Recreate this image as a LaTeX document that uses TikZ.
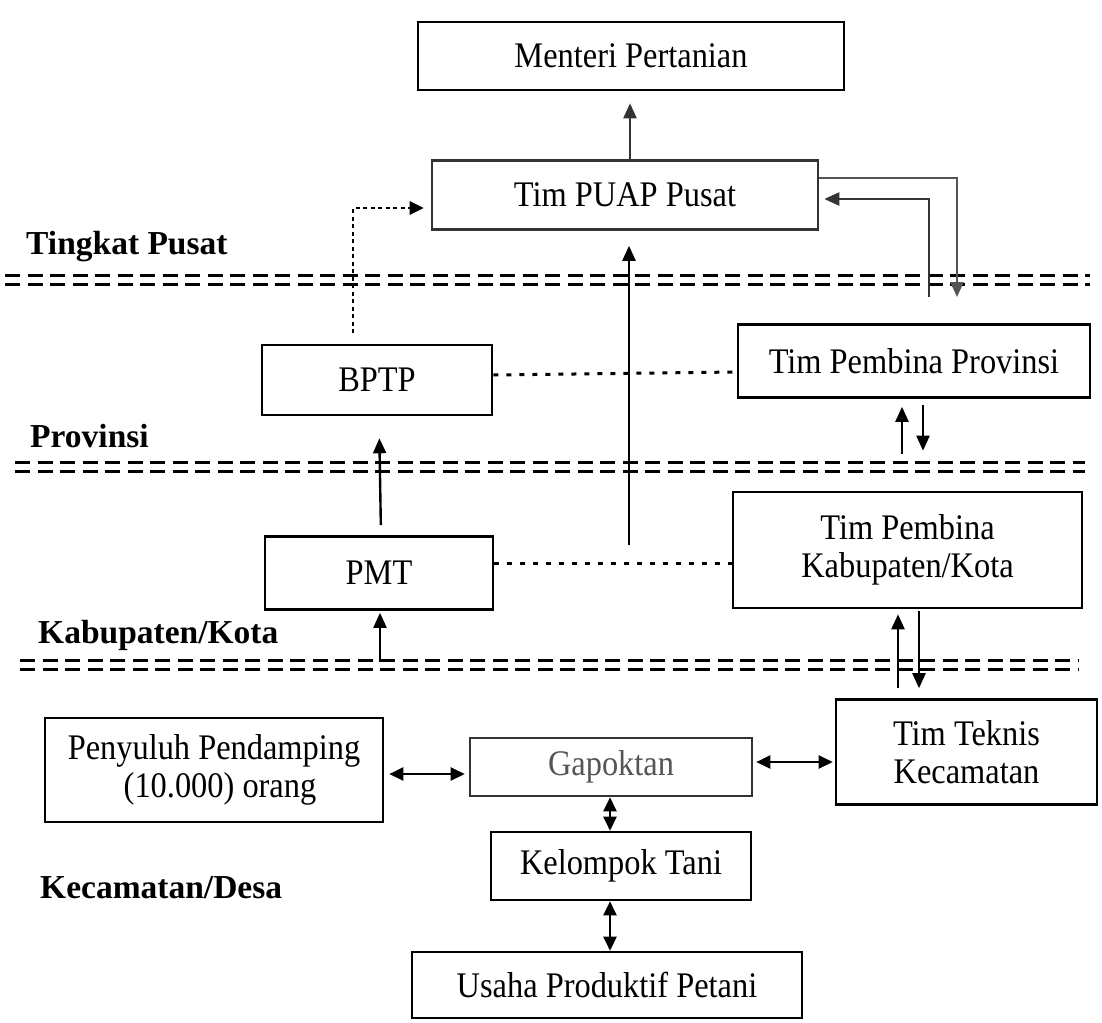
\documentclass[tikz,border=0pt]{standalone}
\usepackage{fontspec}
\setmainfont{Liberation Serif}
\newfontfamily\boxfont{Liberation Serif}[FakeStretch=0.9]
\usetikzlibrary{arrows.meta}
\definecolor{dg}{HTML}{333333}
\definecolor{mg}{HTML}{555555}
\begin{document}
\begin{tikzpicture}[x=1pt,y=-1pt,
  box/.style={draw=black, line width=2.6pt, inner sep=0pt, align=center,
    font=\boxfont\fontsize{36}{38}\selectfont},
  lvl/.style={anchor=base west, inner sep=0pt, font=\bfseries\fontsize{33.5}{38}\selectfont},
  tip/.style={-{Triangle[length=15pt,width=13pt]}},
  arr/.style={line width=2.4pt, tip},
  darr/.style={line width=2.4pt, {Triangle[length=14pt,width=13pt]}-{Triangle[length=14pt,width=13pt]}},
  dotln/.style={line width=3pt, dash pattern=on 5pt off 8pt},
  fineln/.style={line width=2.8pt, dash pattern=on 4pt off 3.5pt},
  sepline/.style={line width=3.5pt, dash pattern=on 15pt off 7.5pt},
]
\useasboundingbox (0,0) rectangle (1102,1022);
\fill[white] (0,0) rectangle (1102,1022);

% level separators
\foreach \ya/\xa/\xb in {280/5/1090, 467/15/1085, 665/20/1078}{
  \draw[sepline] (\xa,\ya-4.5) -- (\xb,\ya-4.5);
  \draw[sepline] (\xa,\ya+4.5) -- (\xb,\ya+4.5);
}

% level labels
\node[lvl] (lpusat) at (26,254) {Tingkat Pusat};
\node[lvl] (lprov) at (30,447) {Provinsi};
\node[lvl] (lkab) at (38,643) {Kabupaten/Kota};
\node[lvl] (lkec) at (40,898) {Kecamatan/Desa};

% boxes
\node[box, minimum width=426pt, minimum height=68pt] (men) at (631,56) {Menteri Pertanian};
\node[box, draw=dg, minimum width=386pt, minimum height=69pt] (puap) at (625,195) {Tim PUAP Pusat};
\node[box, minimum width=230pt, minimum height=70pt] (bptp) at (377,380) {BPTP};
\node[box, minimum width=352pt, minimum height=73pt] (prov) at (914,361) {Tim Pembina Provinsi};
\node[box, minimum width=228pt, minimum height=73pt] (pmt) at (379,573) {PMT};
\node[box, minimum width=349pt, minimum height=116pt] (kab) at (907.5,550) {Tim Pembina\\Kabupaten/Kota};
\node[box, minimum width=338pt, minimum height=104pt] (peny) at (214,770) {Penyuluh Pendamping\\\hspace*{12pt}(10.000) orang};
\node[box, draw=dg, text=mg, minimum width=282pt, minimum height=58pt] (gap) at (611,767) {Gapoktan};
\node[box, minimum width=261pt, minimum height=105pt] (tek) at (966.5,752) {Tim Teknis\\Kecamatan};
\node[box, minimum width=260pt, minimum height=68pt] (kel) at (621,866) {Kelompok Tani};
\node[box, minimum width=390pt, minimum height=66pt] (usa) at (607,985) {Usaha Produktif Petani};

% free ends
\coordinate (bstart) at (353,333);
\coordinate (lstart) at (629,545);
\coordinate (outer) at (957,297);
\coordinate (inner) at (929,297);

% Tim PUAP -> Menteri
\draw[arr, draw=dg, shorten >=12pt] ([xshift=5pt]puap.north) -- ([xshift=-1pt]men.south);
% long arrow up to Tim PUAP
\draw[arr, shorten >=15pt] (lstart) -- (lstart |- puap.south);
% BPTP dotted to Tim PUAP
\draw[fineln, -{Triangle[length=14pt,width=13pt]}, shorten >=7pt] (bstart) |- ([yshift=-13pt]puap.west);
% Tim PUAP <-> Tim Pembina Provinsi
\draw[arr, draw=mg] ([yshift=17pt]puap.east) -| (outer);
\draw[arr, draw=dg, shorten >=5pt] (inner) |- ([yshift=-4pt]puap.east);

% BPTP <- PMT
\draw[arr, shorten <=10pt, shorten >=22pt] ([xshift=2pt]pmt.north) -- ([xshift=2pt]bptp.south);
% PMT <- below
\coordinate (pmtin) at (380,662);
\draw[arr, shorten >=2pt] (pmtin) -- (pmtin |- pmt.south);

% dotted links
\draw[dotln] ([yshift=5pt]bptp.east) -- ([yshift=-11pt]prov.west);
\draw[dotln] ([yshift=10pt]pmt.east) -- ([yshift=-13pt]kab.west);

% Provinsi <-> Kabupaten
\draw[arr, shorten <=37pt, shorten >=8pt] ([xshift=-5.5pt]kab.north) -- ([xshift=-5.5pt]kab.north |- prov.south);
\draw[arr, shorten <=6pt, shorten >=40pt] ([xshift=15.5pt]kab.north |- prov.south) -- ([xshift=15.5pt]kab.north);

% Kabupaten <-> Teknis
\draw[arr, shorten <=10pt, shorten >=5pt] ([xshift=-9.5pt]kab.south |- tek.north) -- ([xshift=-9.5pt]kab.south);
\draw[arr, shorten <=2pt, shorten >=10pt] ([xshift=11.5pt]kab.south) -- ([xshift=11.5pt]kab.south |- tek.north);

% horizontal double arrows
\draw[darr, shorten <=5pt, shorten >=4pt] ([yshift=-4pt]peny.east) -- ([yshift=-4pt]peny.east -| gap.west);
\draw[darr, shorten <=3pt, shorten >=2pt] ([yshift=5pt]gap.east) -- ([yshift=5pt]gap.east -| tek.west);

% vertical double arrows
\draw[darr] ([xshift=-1pt]gap.south) -- ([xshift=-1pt]gap.south |- kel.north);
\draw[darr] ([xshift=-1pt]gap.south |- kel.south) -- ([xshift=-1pt]gap.south |- usa.north);
\end{tikzpicture}
\end{document}
